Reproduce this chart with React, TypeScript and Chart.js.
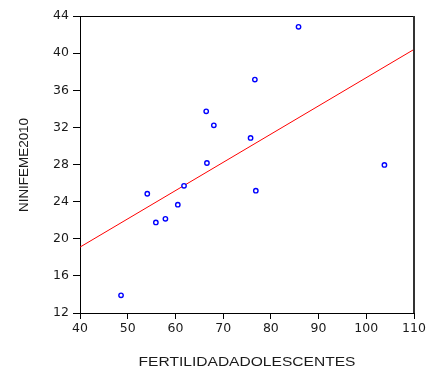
import React, { useEffect, useRef } from "react";
import { Chart, registerables } from "chart.js";

Chart.register(...registerables);

const xValues = [48.6, 54.1, 55.9, 57.9, 60.5, 61.8, 66.45, 68.05, 66.6, 76.65, 85.8, 75.75, 103.8, 76.85];
const yValues = [13.9, 24.85, 21.76, 22.15, 23.67, 25.7, 33.73, 32.22, 28.16, 37.15, 42.83, 30.86, 27.95, 25.18];
const fitX = [40, 110];
const fitY = [19.1, 40.4];
const xTitle = "FERTILIDADADOLESCENTES";
const yTitle = "NINIFEME2010";

const framePlugin = {
  id: "frameAndTitles",
  afterDraw(chart: any) {
    const { ctx, chartArea } = chart;
    const { left, right, top, bottom } = chartArea;
    ctx.save();
    ctx.strokeStyle = "#000";
    ctx.lineWidth = 1;
    ctx.beginPath();
    ctx.moveTo(left, top + 0.5);
    ctx.lineTo(right, top + 0.5);
    ctx.stroke();
    ctx.strokeStyle = "#333";
    ctx.lineWidth = 2;
    ctx.beginPath();
    ctx.moveTo(right, top);
    ctx.lineTo(right, bottom);
    ctx.stroke();

    ctx.fillStyle = "#1a1a1a";
    ctx.font = "12px 'Liberation Sans', Arial, sans-serif";
    ctx.textBaseline = "alphabetic";
    ctx.textAlign = "center";
    ctx.save();
    ctx.translate((left + right) / 2, 366);
    ctx.scale(1.297, 1);
    ctx.fillText(xTitle, 0, 0);
    ctx.restore();
    ctx.save();
    ctx.translate(28.3, 165);
    ctx.rotate(-Math.PI / 2);
    ctx.scale(1.12, 1);
    ctx.fillText(yTitle, 0, 0);
    ctx.restore();
    ctx.restore();
  },
};

export default function App() {
  const ref = useRef<HTMLCanvasElement | null>(null);
  useEffect(() => {
    if (!ref.current) return;
    const points = xValues.map((x, i) => ({ x, y: yValues[i] }));
    const fit = fitX.map((x, i) => ({ x, y: fitY[i] }));
    const tickFont = { family: "'DejaVu Sans', sans-serif", size: 12.5 };
    const chart = new Chart(ref.current, {
      type: "scatter",
      data: {
        datasets: [
          {
            data: fit,
            showLine: true,
            borderColor: "#ff0000",
            borderWidth: 1,
            pointRadius: 0,
            fill: false,
            order: 2,
          } as any,
          {
            data: points,
            pointStyle: "circle",
            pointRadius: 2.2,
            pointBorderWidth: 1.4,
            borderColor: "#0000ff",
            backgroundColor: "#ffffff",
            order: 1,
          } as any,
        ],
      },
      options: {
        animation: false,
        responsive: false,
        layout: { padding: { left: 0, right: 15, top: 16, bottom: 0 } },
        plugins: { legend: { display: false }, tooltip: { enabled: false } },
        scales: {
          x: {
            type: "linear",
            min: 40,
            max: 110,
            ticks: { stepSize: 10, color: "#1a1a1a", font: tickFont, padding: 2, maxRotation: 0 },
            grid: { display: true, drawOnChartArea: false, drawTicks: true, tickLength: 6, color: "#000" },
            border: { display: true, color: "#000", width: 1 },
            afterFit: (s: any) => { s.height = 56; },
          },
          y: {
            type: "linear",
            min: 12,
            max: 44,
            ticks: { stepSize: 4, color: "#1a1a1a", font: tickFont, padding: 4 },
            grid: { display: true, drawOnChartArea: false, drawTicks: true, tickLength: 7, color: "#000" },
            border: { display: true, color: "#000", width: 1 },
            afterFit: (s: any) => { s.width = 80; },
          },
        },
      },
      plugins: [framePlugin],
    });
    return () => chart.destroy();
  }, []);
  return (
    <div style={{ position: "fixed", left: 0, top: 0, width: 429, height: 369, background: "#fff" }}>
      <canvas ref={ref} width={429} height={369} style={{ width: 429, height: 369 }} />
    </div>
  );
}
